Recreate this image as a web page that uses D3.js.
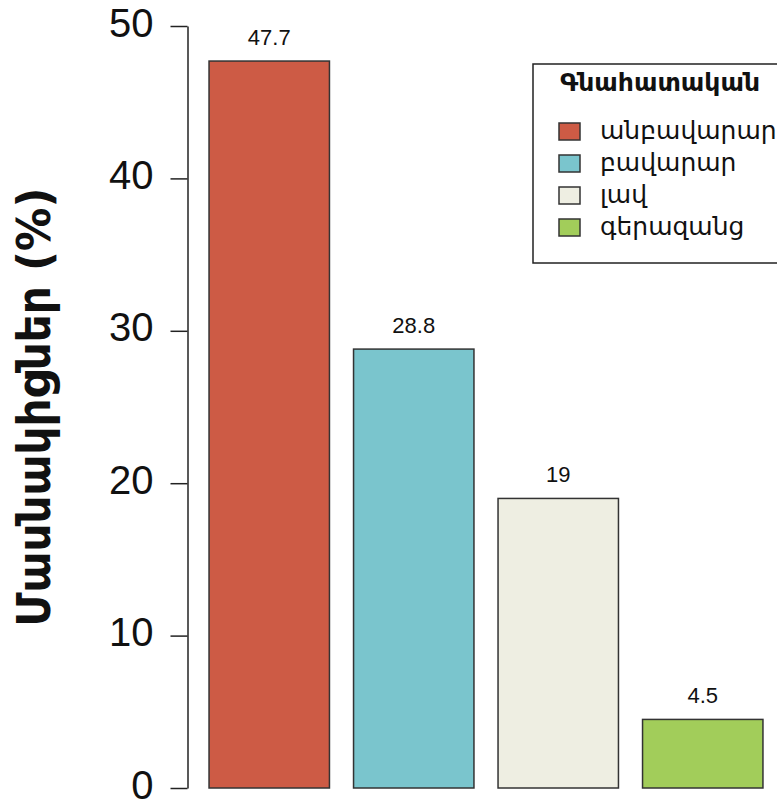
<!DOCTYPE html>
<html><head><meta charset="utf-8">
<script src="https://cdn.jsdelivr.net/npm/d3@7"></script>
<style>body{margin:0;background:#fff}</style>
</head><body>
<svg id="c" width="777" height="806"></svg>
<script>
const categories = ["անբավարար","բավարար","լավ","գերազանց"];
const values = [47.7, 28.8, 19, 4.5];
const valueLabels = ["47.7","28.8","19","4.5"];
const colors = ["#CD5B45","#7AC5CD","#EEEEE2","#A2CD5A"];
const yTicks = [0,10,20,30,40,50];
const legendTitle = "Գնահատական";
const yTitle = "Մասնակիցներ (%)";

const svg = d3.select("#c");
const FONT = "'DejaVu Sans', sans-serif";
const y = d3.scaleLinear().domain([0,50]).range([788,26]);
const x = d3.scaleBand().domain(categories).range([197,775]).paddingInner(1/6).paddingOuter(1/12);

// axis
const ax = svg.append("g").attr("transform","translate(187.5,0)")
  .call(d3.axisLeft(y).tickValues(yTicks).tickSize(17).tickPadding(17).tickSizeOuter(0));
ax.select(".domain").attr("stroke","#222").attr("stroke-width",1.5);
ax.selectAll(".tick line").attr("stroke","#222").attr("stroke-width",1.5);
ax.selectAll(".tick text").attr("font-family","'Liberation Sans', sans-serif").attr("font-size",40)
  .attr("fill","#111").attr("dy","0.25em");

// bars
svg.selectAll("rect.bar").data(values).join("rect").attr("class","bar")
  .attr("x",(d,i)=>x(categories[i])).attr("width",x.bandwidth())
  .attr("y",d=>y(d)).attr("height",d=>y(0)-y(d))
  .attr("fill",(d,i)=>colors[i]).attr("stroke","#333").attr("stroke-width",1.5);

svg.selectAll("text.val").data(values).join("text").attr("class","val")
  .attr("x",(d,i)=>x(categories[i])+x.bandwidth()/2).attr("y",d=>y(d)-16)
  .attr("text-anchor","middle").attr("font-family","'Liberation Sans', sans-serif")
  .attr("font-size",22).attr("fill","#111").text((d,i)=>valueLabels[i]);

// y title
svg.append("text").attr("transform","translate(50,407) rotate(-90)")
  .attr("text-anchor","middle").attr("font-family",FONT).attr("font-weight","bold")
  .attr("font-size",47).attr("textLength",439).attr("lengthAdjust","spacingAndGlyphs")
  .attr("fill","#111").text(yTitle);

// legend
const lg = svg.append("g");
lg.append("rect").attr("x",533).attr("y",64).attr("width",260).attr("height",199)
  .attr("fill","#fff").attr("stroke","#222").attr("stroke-width",1.5);
lg.append("text").attr("x",660).attr("y",91).attr("text-anchor","middle")
  .attr("font-family",FONT).attr("font-weight","bold").attr("font-size",24)
  .attr("textLength",200).attr("lengthAdjust","spacingAndGlyphs").attr("fill","#111").text(legendTitle);
const ly = d3.scalePoint().domain(categories).range([132,228]);
categories.forEach((c,i)=>{
  lg.append("rect").attr("x",559).attr("y",ly(c)-9).attr("width",21).attr("height",17)
    .attr("fill",colors[i]).attr("stroke","#333").attr("stroke-width",1.5);
  lg.append("text").attr("x",600).attr("y",ly(c)+7).attr("font-family",FONT)
    .attr("font-size",25).attr("fill","#111").text(c);
});
</script>
</body></html>
